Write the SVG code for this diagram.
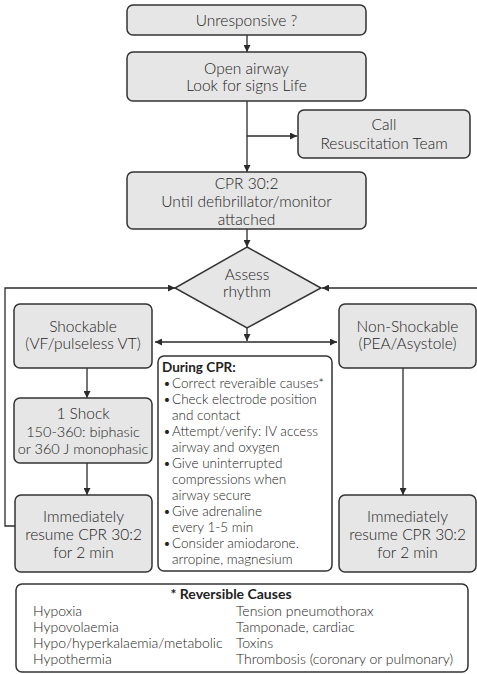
<svg xmlns="http://www.w3.org/2000/svg" width="477" height="674" viewBox="0 0 477 674">
  <defs>
    <marker id="arrow" viewBox="0 0 10 10" refX="10" refY="5" markerWidth="8" markerHeight="7" markerUnits="userSpaceOnUse" orient="auto-start-reverse">
      <path d="M0,0 L10,5 L0,10 z" fill="#2b2b2b"/>
    </marker>
    <style>
      .box { fill: #e6e6e6; stroke: #333333; stroke-width: 1.5; }
      .note { fill: #ffffff; stroke: #333333; stroke-width: 1.5; }
      .link { fill: none; stroke: #2b2b2b; stroke-width: 1.3; }
      .arr { marker-end: url(#arrow); }
      text { font-family: Lato, "Open Sans", "Liberation Sans", sans-serif; fill: #222222; font-weight: 300; }
      .t { font-size: 15.5px; text-anchor: middle; }
      .n { font-size: 14.5px; }
      .s { font-size: 13.5px; }
      .r { font-size: 14px; }
      .b { font-weight: bold; fill: #222222; }
    </style>
  </defs>

  <!-- connectors -->
  <g id="connectors">
    <line class="link arr" x1="247" y1="35" x2="247" y2="52"/>
    <line class="link arr" x1="247" y1="101" x2="247" y2="172"/>
    <line class="link arr" x1="247" y1="136" x2="297" y2="136"/>
    <line class="link arr" x1="247" y1="229" x2="247" y2="247"/>
    <line class="link arr" x1="247" y1="328" x2="247" y2="341"/>
    <line class="link" x1="155" y1="342" x2="337" y2="342" marker-start="url(#arrow)" marker-end="url(#arrow)"/>
    <line class="link arr" x1="87" y1="368" x2="87" y2="398"/>
    <line class="link arr" x1="87" y1="463" x2="87" y2="495"/>
    <line class="link arr" x1="403" y1="368" x2="403" y2="495"/>
    <polyline class="link arr" points="15,526 5,526 5,288 175,288"/>
    <line class="link arr" x1="477" y1="288" x2="322" y2="288"/>
  </g>

  <g id="unresponsive">
    <rect class="box" x="127" y="5" width="239" height="30" rx="6"/>
    <text class="t" x="246.5" y="26">Unresponsive ?</text>
  </g>

  <g id="open-airway">
    <rect class="box" x="127" y="52" width="239" height="49" rx="6"/>
    <text class="t" x="246.5" y="74">Open airway</text>
    <text class="t" x="246.5" y="91">Look for signs Life</text>
  </g>

  <g id="call-team">
    <rect class="box" x="298" y="110" width="172" height="48" rx="6"/>
    <text class="t" x="384" y="130">Call</text>
    <text class="t" x="384" y="149">Resuscitation Team</text>
  </g>

  <g id="cpr">
    <rect class="box" x="127" y="172" width="239" height="57" rx="6"/>
    <text class="t" x="246.5" y="189">CPR 30:2</text>
    <text class="t" x="246.5" y="207">Until defibrillator/monitor</text>
    <text class="t" x="246.5" y="225">attached</text>
  </g>

  <g id="assess">
    <polygon class="box" points="247,247 321,288 247,328 175,288"/>
    <text class="t" x="247" y="280">Assess</text>
    <text class="t" x="247" y="297">rhythm</text>
  </g>

  <g id="shockable">
    <rect class="box" x="14" y="304" width="138" height="64" rx="6"/>
    <text class="t" x="83" y="332">Shockable</text>
    <text class="t" x="83" y="349">(VF/pulseless VT)</text>
  </g>

  <g id="non-shockable">
    <rect class="box" x="339" y="304" width="137" height="64" rx="6"/>
    <text class="t" x="407.5" y="332">Non-Shockable</text>
    <text class="t" x="407.5" y="349">(PEA/Asystole)</text>
  </g>

  <g id="shock">
    <rect class="box" x="14" y="398" width="138" height="65" rx="6"/>
    <text class="t" x="83" y="419">1 Shock</text>
    <text class="t n" x="83" y="437">150-360: biphasic</text>
    <text class="t n" x="83" y="454">or 360 J monophasic</text>
  </g>

  <g id="resume-left">
    <rect class="box" x="15" y="495" width="137" height="77" rx="6"/>
    <text class="t" x="83.5" y="522">Immediately</text>
    <text class="t" x="83.5" y="540">resume CPR 30:2</text>
    <text class="t" x="83.5" y="558">for 2 min</text>
  </g>

  <g id="resume-right">
    <rect class="box" x="339" y="495" width="137" height="77" rx="6"/>
    <text class="t" x="407.5" y="522">Immediately</text>
    <text class="t" x="407.5" y="540">resume CPR 30:2</text>
    <text class="t" x="407.5" y="558">for 2 min</text>
  </g>

  <g id="during-cpr">
    <rect class="note" x="158" y="356" width="174" height="215" rx="6"/>
    <text class="s b" x="162" y="372">During CPR:</text>
    <text class="s" x="163" y="388">•</text><text class="s" x="172" y="388">Correct reveraible causes*</text>
    <text class="s" x="163" y="404">•</text><text class="s" x="172" y="404">Check electrode position</text>
    <text class="s" x="172" y="420">and contact</text>
    <text class="s" x="163" y="436">•</text><text class="s" x="172" y="436">Attempt/verify: IV access</text>
    <text class="s" x="172" y="452">airway and oxygen</text>
    <text class="s" x="163" y="468">•</text><text class="s" x="172" y="468">Give uninterrupted</text>
    <text class="s" x="172" y="484">compressions when</text>
    <text class="s" x="172" y="500">airway secure</text>
    <text class="s" x="163" y="516">•</text><text class="s" x="172" y="516">Give adrenaline</text>
    <text class="s" x="172" y="532">every 1-5 min</text>
    <text class="s" x="163" y="548">•</text><text class="s" x="172" y="548">Consider amiodarone.</text>
    <text class="s" x="172" y="564">arropine, magnesium</text>
  </g>

  <g id="reversible-causes">
    <rect class="note" x="16" y="584" width="452" height="88" rx="6"/>
    <text class="r b" x="231" y="599" text-anchor="middle">* Reversible Causes</text>
    <text class="r" x="33" y="616">Hypoxia</text>
    <text class="r" x="33" y="632">Hypovolaemia</text>
    <text class="r" x="33" y="648">Hypo/hyperkalaemia/metabolic</text>
    <text class="r" x="33" y="664">Hypothermia</text>
    <text class="r" x="236" y="616">Tension pneumothorax</text>
    <text class="r" x="236" y="632">Tamponade, cardiac</text>
    <text class="r" x="236" y="648">Toxins</text>
    <text class="r" x="236" y="664">Thrombosis (coronary or pulmonary)</text>
  </g>
</svg>
